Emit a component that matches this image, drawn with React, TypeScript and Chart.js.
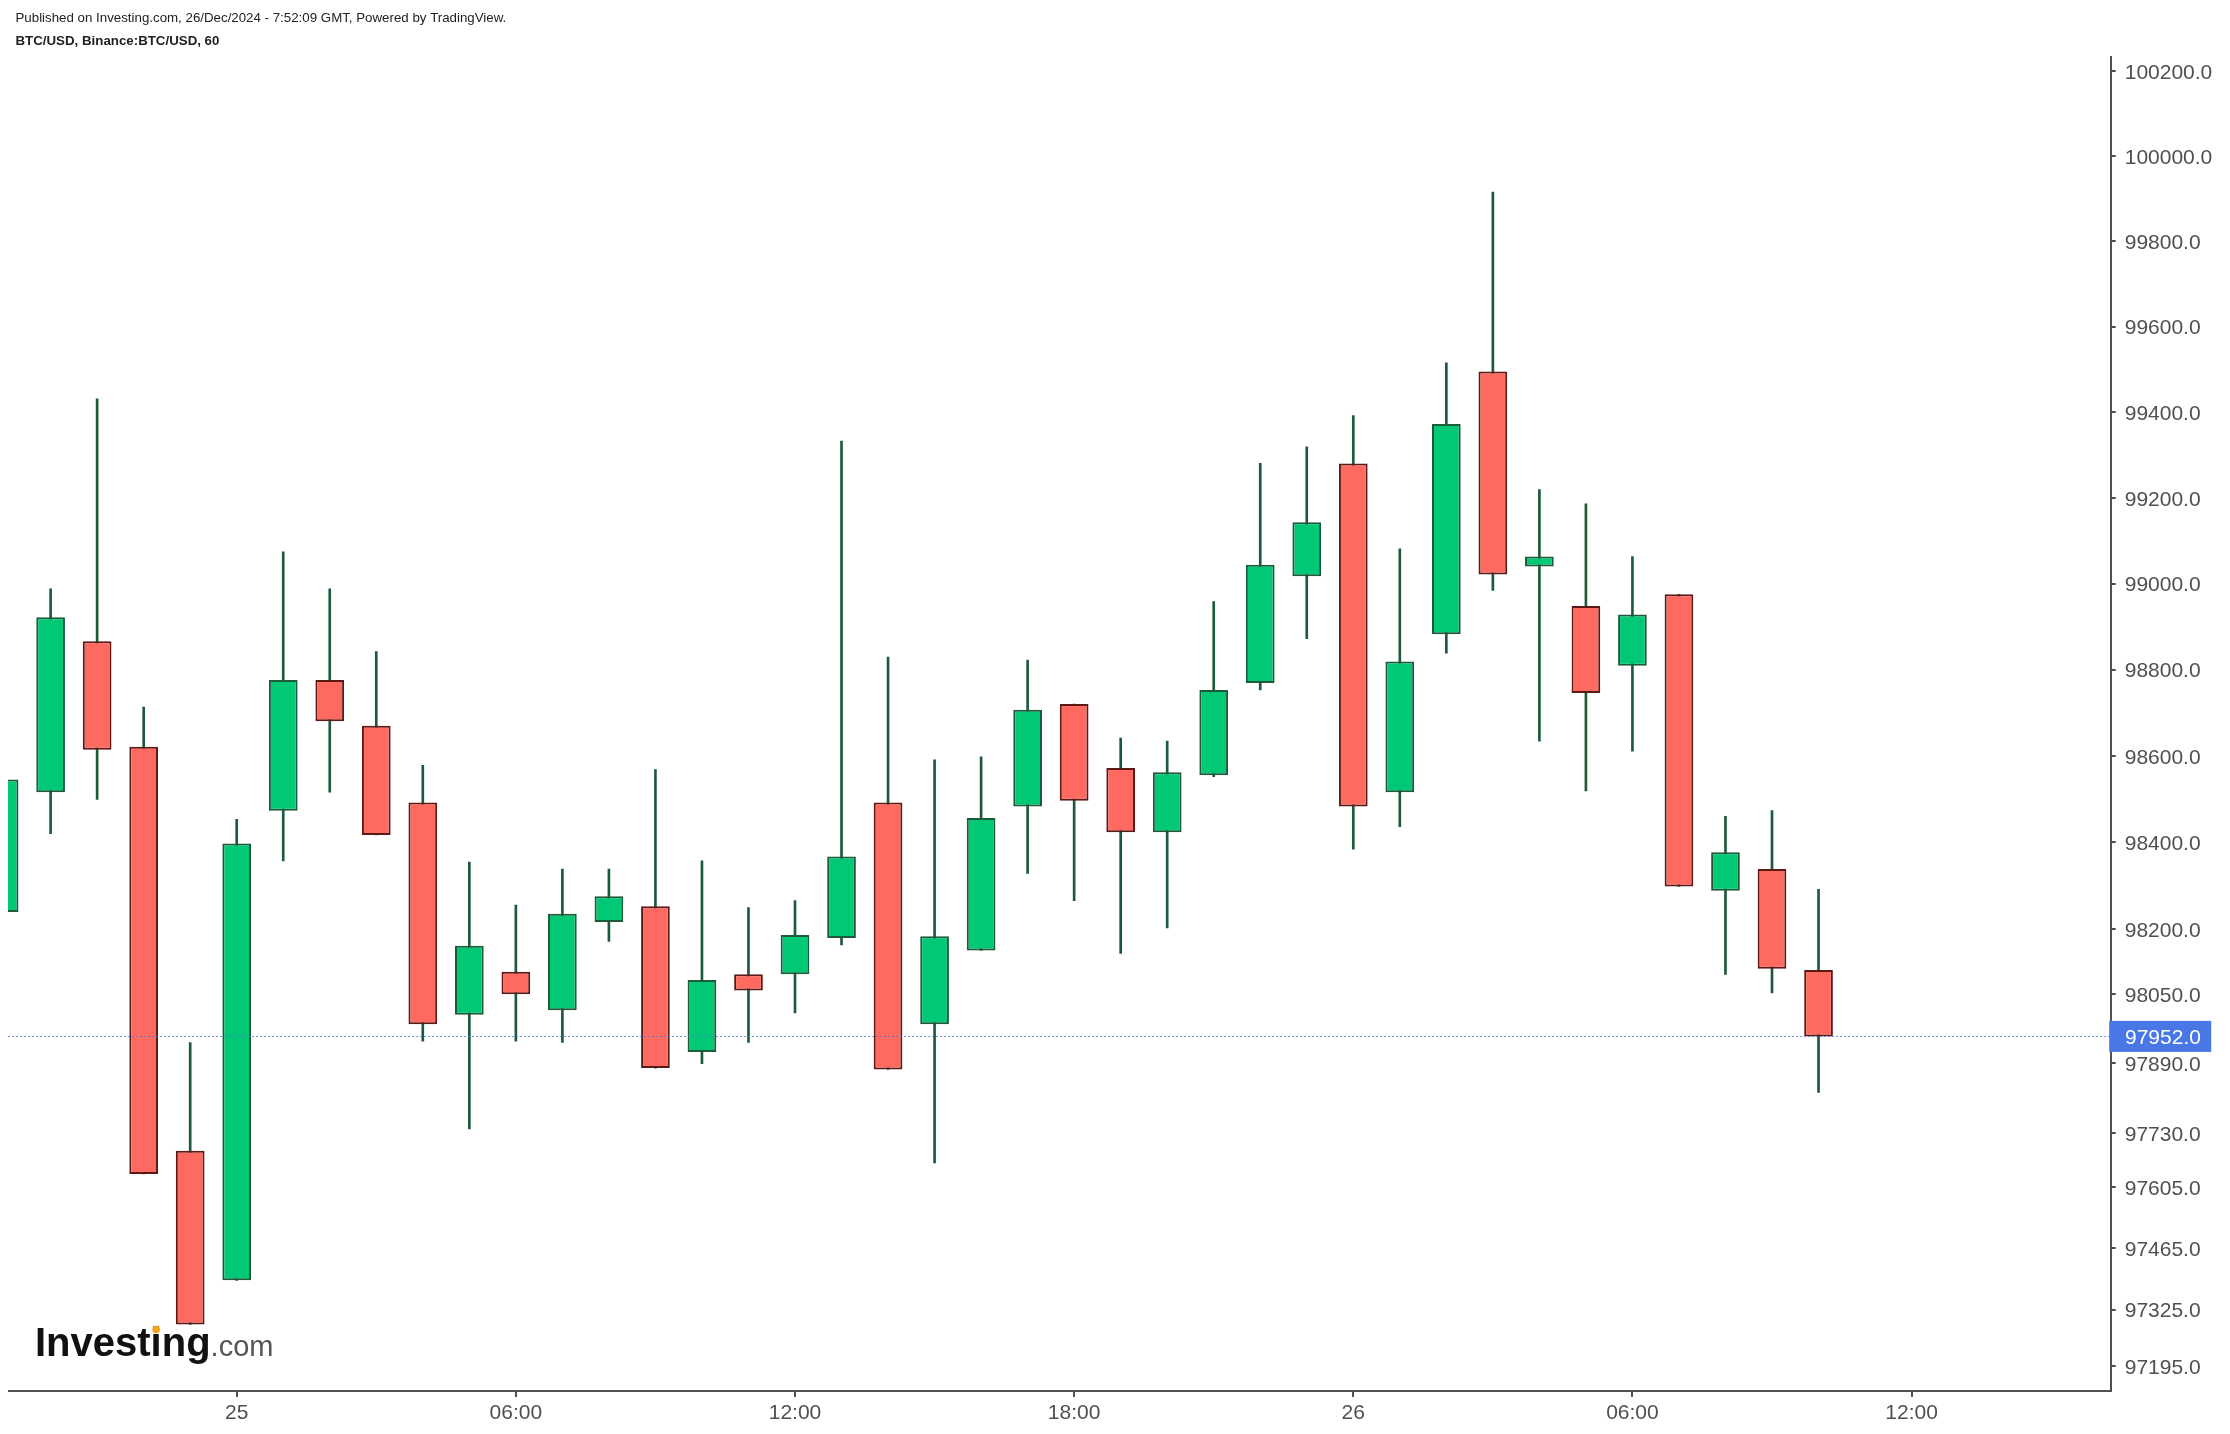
import React, { useEffect, useRef } from 'react';
import { Chart, registerables } from 'chart.js';

Chart.register(...registerables);

// Hours relative to 00:00, 25 Dec 2024 (1-hour candles)
const hours = [-5, -4, -3, -2, -1, 0, 1, 2, 3, 4, 5, 6, 7, 8, 9, 10, 11, 12, 13, 14, 15, 16, 17, 18, 19, 20, 21, 22, 23, 24, 25, 26, 27, 28, 29, 30, 31, 32, 33, 34];
const opens = [98239, 98516, 98866, 98621, 97689, 97392, 98473, 98776, 98670, 98492, 98002, 98101, 98012, 98216, 98252, 97916, 98095, 98095, 98179, 98492, 97980, 98150, 98483, 98720, 98572, 98423, 98555, 98769, 99017, 99280, 98516, 98882, 99495, 99040, 98948, 98809, 98975, 98288, 98338, 98105];
const highs = [98600, 98988, 99431, 98713, 97938, 98453, 99074, 98988, 98842, 98578, 98354, 98255, 98338, 98338, 98568, 98357, 98249, 98265, 99332, 98829, 98591, 98598, 98822, 98720, 98641, 98634, 98958, 99280, 99319, 99392, 99081, 99515, 99915, 99219, 99186, 99063, 98975, 98460, 98473, 98291];
const lows = [98200, 98420, 98499, 97636, 97291, 97392, 98357, 98516, 98417, 97941, 97739, 97941, 97938, 98171, 97879, 97889, 97938, 98006, 98163, 97876, 97661, 98150, 98328, 98265, 98143, 98202, 98552, 98753, 98872, 98384, 98436, 98838, 98984, 98634, 98519, 98611, 98298, 98095, 98052, 97823];
const closes = [98545, 98922, 98614, 97636, 97291, 98397, 98776, 98680, 98417, 97980, 98161, 98049, 98235, 98275, 97879, 98082, 98058, 98186, 98367, 97876, 98183, 98456, 98707, 98496, 98423, 98562, 98753, 99044, 99143, 98483, 98819, 99372, 99021, 99063, 98746, 98928, 98298, 98377, 98108, 97952];

const xTickHours = [0, 6, 12, 18, 24, 30, 36];
const xTickLabels = ['25', '06:00', '12:00', '18:00', '26', '06:00', '12:00'];
const yTickValues = [100200, 100000, 99800, 99600, 99400, 99200, 99000, 98800, 98600, 98400, 98200, 98050, 97890, 97730, 97605, 97465, 97325, 97195];
const lastPrice = 97952;

const headerLine1 = 'Published on Investing.com, 26/Dec/2024 - 7:52:09 GMT, Powered by TradingView.';
const headerLine2 = 'BTC/USD, Binance:BTC/USD, 60';

const GREEN = '#00c875';
const GREEN_BORDER = '#1d5a3a';
const RED = '#ff6a60';
const RED_BORDER = '#5c1a17';
const WICK = '#1d5a3a';
const AXIS = '#505050';
const FONT = '"Liberation Sans", Arial, sans-serif';

export default function App() {
  const ref = useRef<HTMLCanvasElement>(null);

  useEffect(() => {
    const canvas = ref.current;
    if (!canvas) return;
    const up = hours.map((_, i) => closes[i] >= opens[i]);
    const bodyData = hours.map((h, i) => ({ x: h, y: [opens[i], closes[i]] }));
    const wickData = hours.map((h, i) => ({ x: h, y: [lows[i], highs[i]] }));

    const overlay = {
      id: 'overlay',
      afterDatasetsDraw(chart: any) {
        const { ctx, chartArea, scales } = chart;
        const y = scales.y.getPixelForValue(lastPrice);
        ctx.save();
        ctx.strokeStyle = 'rgba(74,119,230,0.75)';
        ctx.lineWidth = 1;
        ctx.setLineDash([2, 2]);
        ctx.beginPath();
        ctx.moveTo(chartArea.left, Math.round(y) + 0.5);
        ctx.lineTo(chartArea.right, Math.round(y) + 0.5);
        ctx.stroke();
        ctx.restore();
      },
      afterDraw(chart: any) {
        const { ctx, chartArea, scales } = chart;
        ctx.save();
        // header
        ctx.fillStyle = '#222';
        ctx.textBaseline = 'alphabetic';
        ctx.textAlign = 'left';
        ctx.font = `13.3px ${FONT}`;
        ctx.fillText(headerLine1, 7.5, 14);
        ctx.font = `bold 13.3px ${FONT}`;
        ctx.fillText(headerLine2, 7.5, 37);

        // price label box
        const y = scales.y.getPixelForValue(lastPrice);
        ctx.fillStyle = '#4a77e6';
        ctx.fillRect(chartArea.right - 1.5, y - 15.5, 102, 31);
        ctx.fillStyle = '#ffffff';
        ctx.font = `21px ${FONT}`;
        ctx.textBaseline = 'middle';
        ctx.fillText(lastPrice.toFixed(1), 2117, y + 1.5);

        // logo
        ctx.textBaseline = 'alphabetic';
        ctx.font = `bold 40px ${FONT}`;
        ctx.fillStyle = '#111';
        const lx = 27;
        const ly = 1348;
        ctx.fillText('Investing', lx, ly);
        const wInv = ctx.measureText('Investing').width;
        const wPre = ctx.measureText('Invest').width;
        const wI = ctx.measureText('i').width;
        ctx.fillStyle = '#f7a21b';
        ctx.beginPath();
        ctx.arc(lx + wPre + wI / 2, ly - 26.5, 3.8, 0, Math.PI * 2);
        ctx.fill();
        ctx.font = `29px ${FONT}`;
        ctx.fillStyle = '#555';
        ctx.fillText('.com', lx + wInv, ly);
        ctx.restore();
      },
    };

    const chart = new Chart(canvas, {
      type: 'bar',
      data: {
        datasets: [
          {
            data: bodyData as any,
            backgroundColor: up.map((u) => (u ? GREEN : RED)),
            borderColor: up.map((u) => (u ? GREEN_BORDER : RED_BORDER)),
            borderWidth: 2,
            borderSkipped: false,
            grouped: false,
            categoryPercentage: 1,
            barPercentage: 0.617,
            order: 0,
          } as any,
          {
            data: wickData as any,
            backgroundColor: WICK,
            borderWidth: 0,
            grouped: false,
            barThickness: 2,
            order: 1,
          } as any,
        ],
      },
      options: {
        animation: false,
        responsive: false,
        devicePixelRatio: 1,
        layout: { padding: { top: 49, left: 0, right: 0, bottom: 0 } },
        plugins: { legend: { display: false }, tooltip: { enabled: false } },
        scales: {
          x: {
            type: 'linear',
            min: -4.916,
            max: 40.28,
            offset: false,
            grid: { display: true, drawOnChartArea: false, drawTicks: true, tickLength: 6, color: AXIS, lineWidth: 2, offset: false },
            border: { display: true, color: AXIS, width: 2 },
            afterBuildTicks: (axis: any) => {
              axis.ticks = xTickHours.map((v) => ({ value: v }));
            },
            afterFit: (axis: any) => {
              axis.height = 35;
            },
            ticks: {
              autoSkip: false,
              maxRotation: 0,
              padding: 4,
              color: AXIS,
              font: { family: FONT, size: 21 },
              callback: (v: any) => {
                const idx = xTickHours.indexOf(Number(v));
                return idx >= 0 ? xTickLabels[idx] : '';
              },
            },
          },
          y: {
            type: 'logarithmic',
            position: 'right',
            min: 97139,
            max: 100233,
            grid: { display: true, drawOnChartArea: false, drawTicks: true, tickLength: 5, color: AXIS, lineWidth: 2 },
            border: { display: true, color: AXIS, width: 2 },
            afterBuildTicks: (axis: any) => {
              axis.ticks = yTickValues.map((v) => ({ value: v }));
            },
            afterFit: (axis: any) => {
              axis.width = 111.3;
            },
            ticks: {
              autoSkip: false,
              padding: 9,
              labelOffset: 2,
              color: AXIS,
              font: { family: FONT, size: 21 },
              callback: (v: any) => Number(v).toFixed(1),
            },
          },
        },
      } as any,
      plugins: [overlay],
    });
    return () => chart.destroy();
  }, []);

  return (
    <div style={{ width: 2214, height: 1418 }}>
      <canvas ref={ref} width={2214} height={1418} style={{ display: 'block' }} />
    </div>
  );
}
